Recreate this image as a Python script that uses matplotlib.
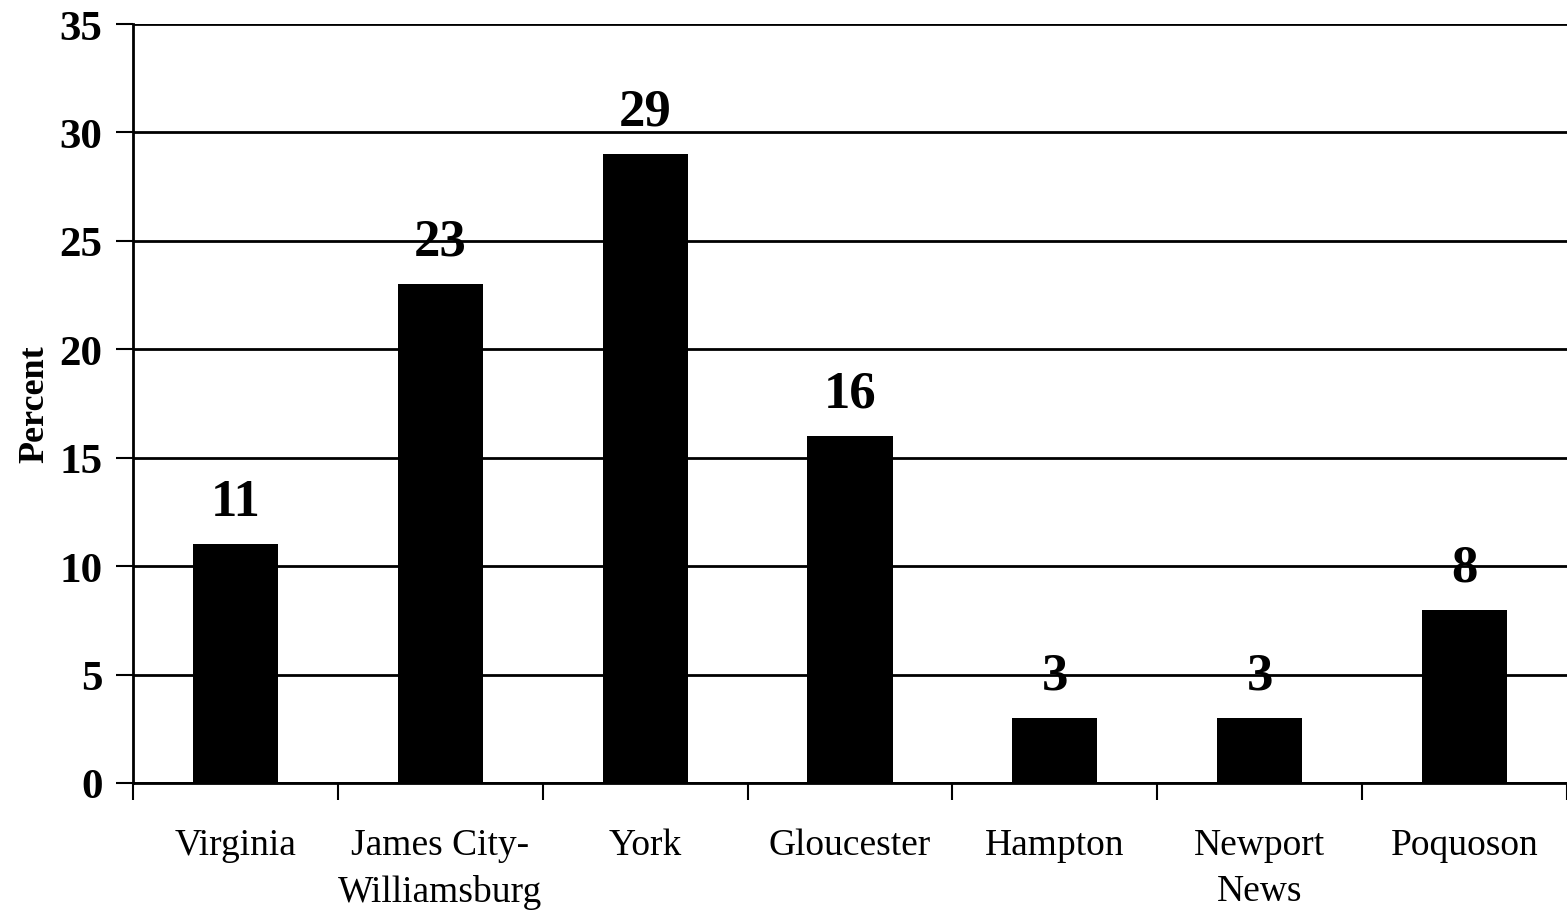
import matplotlib.pyplot as plt
import numpy as np

categories = ["Virginia", "James City-\nWilliamsburg", "York", "Gloucester",
              "Hampton", "Newport\nNews", "Poquoson"]
values = [11, 23, 29, 16, 3, 3, 8]
yticks = [0, 5, 10, 15, 20, 25, 30, 35]

plt.rcParams['font.family'] = ['Liberation Serif', 'DejaVu Serif']

fig = plt.figure(figsize=(15.67, 9.12), dpi=100)
ax = fig.add_axes([133/1567, 1 - 784/912, 1 - 133/1567, (784 - 25)/912])

x = np.arange(len(categories))
ax.bar(x, values, width=0.415, color='black', zorder=3)

for xi, v in zip(x, values):
    ax.text(xi, v + 0.85, str(v), ha='center', va='bottom',
            fontsize=38, fontweight='bold', zorder=4)

ax.set_xlim(-0.5, len(categories) - 0.5)
ax.set_ylim(0, 35)
ax.set_yticks(yticks)
ax.set_yticklabels([str(t) for t in yticks], fontsize=31, fontweight='bold')
ax.yaxis.grid(True, color='black', linewidth=2, zorder=0)
ax.tick_params(axis='y', length=12, width=1.5, pad=10)

ax.set_xticks(x)
ax.set_xticklabels(categories, fontsize=27, va='top', linespacing=1.45)
ax.tick_params(axis='x', which='major', length=0, pad=32)
ax.set_xticks(np.arange(-0.5, len(categories), 1.0), minor=True)
ax.tick_params(axis='x', which='minor', length=12, width=1.5)

ax.set_ylabel("Percent", fontsize=26, fontweight='bold', labelpad=6)

for s in ['top', 'right']:
    ax.spines[s].set_visible(False)
ax.spines['left'].set_linewidth(2)
ax.spines['bottom'].set_linewidth(2)

fig.savefig("out.png", dpi=100)
